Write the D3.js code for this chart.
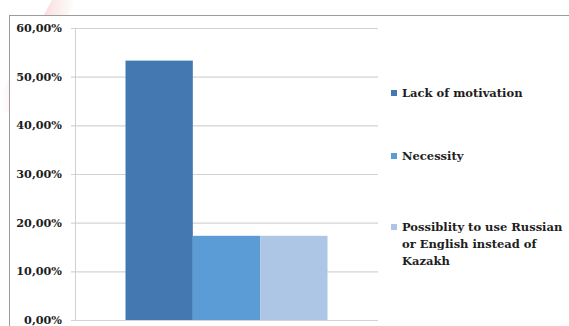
<!DOCTYPE html>
<html>
<head>
<meta charset="utf-8">
<script src="https://cdn.jsdelivr.net/npm/d3@7"></script>
<style>
  html, body { margin: 0; padding: 0; background: #fff; }
  svg { display: block; }
  text { font-family: "DejaVu Serif", "Liberation Serif", serif; font-weight: bold; fill: #1e1e1e; }
</style>
</head>
<body>
<svg id="chart" width="569" height="326"></svg>
<script>
// Survey answers, one group with three series
const categories = ["Total"];
const seriesNames = ["Lack of motivation", "Necessity", "Possiblity to use Russian or English instead of Kazakh"];
const seriesValues = [0.533, 0.173, 0.173];
const seriesColors = ["#4379b0", "#5b9cd6", "#adc6e6"];
const legendLines = [["Lack of motivation"], ["Necessity"], ["Possiblity to use Russian", "or English instead of", "Kazakh"]];
const tickValues = [0, 0.1, 0.2, 0.3, 0.4, 0.5, 0.6];

const svg = d3.select("#chart");
const W = 569, H = 326;
const plot = { left: 75, right: 378, top: 28, bottom: 320 };

// faint pink streak in the corner of the slide background
const defs = svg.append("defs");
const grad = defs.append("linearGradient").attr("id", "streak")
  .attr("x1", "0%").attr("y1", "0%").attr("x2", "100%").attr("y2", "0%");
grad.append("stop").attr("offset", "0%").attr("stop-color", "#f7d6d6").attr("stop-opacity", 0);
grad.append("stop").attr("offset", "50%").attr("stop-color", "#f7d3d3").attr("stop-opacity", 0.9);
grad.append("stop").attr("offset", "100%").attr("stop-color", "#f7d6d6").attr("stop-opacity", 0);
svg.append("polygon")
  .attr("points", "52,0 76,0 12,112 0,112 0,96")
  .attr("fill", "url(#streak)");

// chart frame
svg.append("rect")
  .attr("x", 9.5).attr("y", 15.5)
  .attr("width", W + 10).attr("height", H + 10)
  .attr("fill", "#fff")
  .attr("stroke", "#9c9c9c").attr("stroke-width", 1);

const y = d3.scaleLinear().domain([0, 0.6]).range([plot.bottom, plot.top]);
const x0 = d3.scaleBand().domain(categories).range([plot.left, plot.right])
  .paddingInner(0).paddingOuter(0.25);
const x1 = d3.scaleBand().domain(seriesNames).range([0, x0.bandwidth()]).padding(0);

// gridlines with small outward ticks
const fmt = v => d3.format(".2f")(v * 100).replace(".", ",") + "%";
const yAxis = d3.axisLeft(y)
  .tickValues(tickValues)
  .tickSize(-(plot.right - plot.left))
  .tickSizeOuter(0)
  .tickPadding(9)
  .tickFormat(fmt);

const gAxis = svg.append("g")
  .attr("transform", `translate(${plot.left},0)`)
  .call(yAxis);
gAxis.select(".domain").remove();
gAxis.selectAll(".tick line")
  .attr("x1", -4)
  .attr("stroke", "#d3d3d3").attr("stroke-width", 1.2);
gAxis.selectAll(".tick text")
  .attr("font-size", 11.2)
  .attr("x", -13)
  .style("font-family", "'DejaVu Serif', serif")
  .style("font-weight", "bold")
  .attr("fill", "#1e1e1e");

// vertical axis line
svg.append("line")
  .attr("x1", plot.left + 0.5).attr("x2", plot.left + 0.5)
  .attr("y1", y(0.6)).attr("y2", y(0))
  .attr("stroke", "#d0d0d0").attr("stroke-width", 1);

// bars
const group = svg.selectAll("g.cat")
  .data(categories)
  .join("g").attr("class", "cat")
  .attr("transform", d => `translate(${x0(d)},0)`);

group.selectAll("rect")
  .data(seriesNames.map((s, i) => ({ s, v: seriesValues[i], c: seriesColors[i] })))
  .join("rect")
  .attr("x", d => x1(d.s))
  .attr("width", x1.bandwidth())
  .attr("y", d => y(d.v))
  .attr("height", d => y(0) - y(d.v))
  .attr("fill", d => d.c);

// legend
const legendRows = [93, 156, 227];
const lg = svg.append("g");
legendLines.forEach((lines, i) => {
  lg.append("rect")
    .attr("x", 391).attr("y", legendRows[i] - 3)
    .attr("width", 6).attr("height", 6)
    .attr("fill", seriesColors[i]);
  const t = lg.append("text")
    .attr("x", 402).attr("y", legendRows[i])
    .attr("dy", "0.35em")
    .attr("font-size", 11.5);
  lines.forEach((ln, j) => {
    t.append("tspan").attr("x", 402).attr("dy", j === 0 ? "0.35em" : 17).text(ln);
  });
});
lg.selectAll("text").attr("dy", null);
</script>
</body>
</html>
